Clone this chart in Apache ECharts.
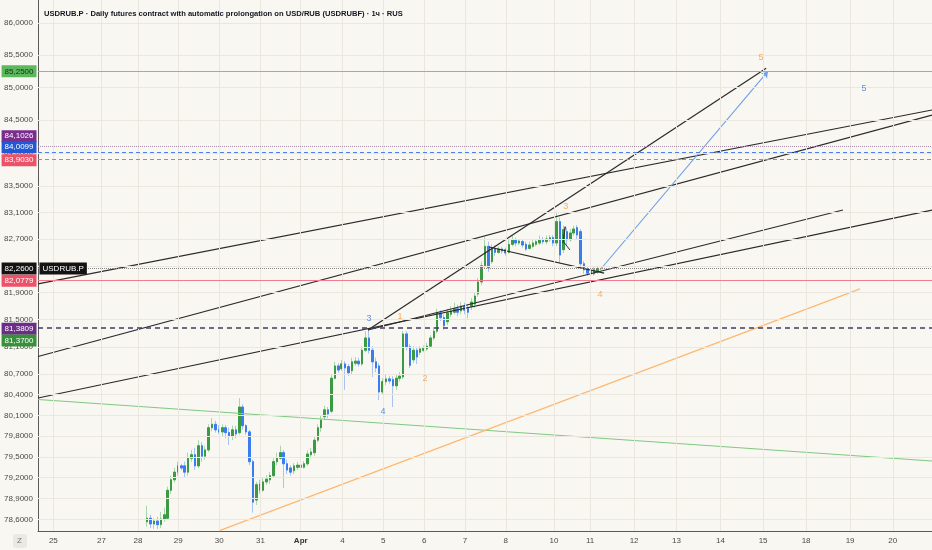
<!DOCTYPE html>
<html>
<head>
<meta charset="utf-8">
<title>USDRUB.P</title>
<script src="https://cdn.jsdelivr.net/npm/echarts@6.0.0/dist/echarts.min.js"></script>
<style>
html, body { margin: 0; padding: 0; background: #f9f7f1; }
#main { width: 932px; height: 550px; }
</style>
</head>
<body>
<div id="main"></div>
<script>
var myChart = echarts.init(document.getElementById('main'));

// hourly bars, 12 slots per trading day; first bar sits on slot 32
var firstBar = 32;

var opens = [
    78.57, 78.62, 78.54, 78.58, 78.53, 78.61, 78.62, 79.02, 79.17, 79.28,
    79.37, 79.37, 79.28, 79.48, 79.53, 79.37, 79.66, 79.51, 79.60, 79.92,
    79.97, 79.89, 79.86, 79.92, 79.85, 79.80, 79.89, 79.85, 80.22, 79.95,
    79.86, 79.43, 78.88, 79.11, 79.02, 79.14, 79.17, 79.23, 79.43, 79.48,
    79.56, 79.40, 79.34, 79.30, 79.35, 79.38, 79.35, 79.40, 79.53, 79.56,
    79.74, 79.92, 80.08, 80.18, 80.16, 80.64, 80.82, 80.78, 80.85, 80.81,
    80.75, 80.86, 80.89, 80.85, 81.05, 81.23, 81.05, 80.88, 80.82, 80.44,
    80.59, 80.63, 80.62, 80.53, 80.64, 80.66, 81.29, 81.10, 80.91, 81.05,
    81.02, 81.05, 81.07, 81.11, 81.23, 81.33, 81.60, 81.53, 81.47, 81.58,
    81.61, 81.66, 81.63, 81.70, 81.67, 81.70, 81.73, 81.88, 82.06, 82.30,
    82.59, 82.36, 82.56, 82.50, 82.55, 82.54, 82.50, 82.62, 82.69, 82.64,
    82.66, 82.62, 82.56, 82.59, 82.62, 82.64, 82.69, 82.66, 82.69, 82.72,
    82.64, 82.96, 82.54, 82.81, 82.69, 82.79, 82.87, 82.81, 82.33, 82.25,
    82.22, 82.18, 82.21
];
var closes = [
    78.62, 78.54, 78.58, 78.53, 78.61, 78.67, 79.02, 79.17, 79.28, 79.37,
    79.34, 79.28, 79.48, 79.53, 79.37, 79.66, 79.51, 79.60, 79.92, 79.97,
    79.89, 79.86, 79.92, 79.85, 79.80, 79.89, 79.83, 80.22, 79.95, 79.86,
    79.43, 78.85, 79.10, 79.02, 79.14, 79.18, 79.23, 79.43, 79.48, 79.56,
    79.40, 79.31, 79.28, 79.37, 79.38, 79.35, 79.40, 79.54, 79.57, 79.74,
    79.92, 80.03, 80.18, 80.12, 80.64, 80.82, 80.76, 80.85, 80.79, 80.72,
    80.88, 80.89, 80.85, 81.05, 81.23, 81.05, 80.88, 80.79, 80.44, 80.59,
    80.63, 80.60, 80.53, 80.64, 80.67, 81.29, 81.10, 80.83, 81.05, 80.95,
    81.07, 81.08, 81.11, 81.23, 81.33, 81.60, 81.53, 81.41, 81.60, 81.63,
    81.66, 81.61, 81.70, 81.64, 81.61, 81.76, 81.85, 82.06, 82.30, 82.59,
    82.27, 82.56, 82.50, 82.55, 82.52, 82.49, 82.62, 82.69, 82.64, 82.67,
    82.61, 82.55, 82.61, 82.64, 82.66, 82.69, 82.66, 82.70, 82.72, 82.64,
    82.96, 82.46, 82.84, 82.69, 82.79, 82.85, 82.76, 82.33, 82.24, 82.19,
    82.18, 82.24, 82.26
];
var lows = [
    78.50, 78.48, 78.47, 78.47, 78.48, 78.57, 78.60, 78.97, 79.13, 79.23,
    79.31, 79.20, 79.23, 79.43, 79.31, 79.34, 79.43, 79.46, 79.57, 79.87,
    79.85, 79.83, 79.80, 79.77, 79.67, 79.74, 79.77, 79.82, 79.89, 79.82,
    79.38, 78.70, 78.81, 78.97, 79.00, 79.10, 79.11, 79.20, 79.38, 79.46,
    79.05, 79.25, 79.23, 79.25, 79.31, 79.33, 79.33, 79.37, 79.48, 79.51,
    79.71, 79.86, 80.03, 80.06, 80.13, 80.62, 80.72, 80.75, 80.47, 80.67,
    80.70, 80.82, 80.81, 80.82, 81.02, 81.00, 80.66, 80.73, 80.32, 80.40,
    80.54, 80.56, 80.22, 80.47, 80.59, 80.63, 81.05, 80.79, 80.86, 80.85,
    80.98, 81.02, 81.04, 81.08, 81.20, 81.30, 81.48, 81.35, 81.42, 81.54,
    81.58, 81.55, 81.58, 81.58, 81.52, 81.64, 81.67, 81.84, 82.01, 82.27,
    82.21, 82.33, 82.45, 82.48, 82.48, 82.45, 82.48, 82.59, 82.59, 82.61,
    82.57, 82.52, 82.54, 82.56, 82.59, 82.61, 82.62, 82.62, 82.66, 82.59,
    82.59, 82.34, 82.49, 82.61, 82.66, 82.75, 82.69, 82.28, 82.18, 82.15,
    82.15, 82.15, 82.18
];
var highs = [
    78.80, 78.67, 78.62, 78.64, 78.71, 78.77, 79.07, 79.23, 79.34, 79.43,
    79.40, 79.43, 79.56, 79.60, 79.63, 79.74, 79.71, 79.66, 79.97, 80.06,
    80.02, 79.96, 79.97, 79.96, 79.92, 79.95, 79.95, 80.35, 80.26, 79.97,
    79.89, 79.46, 79.14, 79.17, 79.20, 79.24, 79.28, 79.48, 79.56, 79.66,
    79.60, 79.46, 79.38, 79.41, 79.43, 79.41, 79.44, 79.59, 79.63, 79.80,
    79.97, 80.09, 80.24, 80.22, 80.70, 80.88, 80.86, 80.91, 80.89, 80.85,
    80.94, 80.95, 80.94, 81.11, 81.33, 81.35, 81.11, 80.94, 80.86, 80.64,
    80.69, 80.67, 80.67, 80.70, 80.73, 81.33, 81.33, 81.14, 81.11, 81.10,
    81.11, 81.12, 81.16, 81.27, 81.39, 81.66, 81.64, 81.58, 81.66, 81.70,
    81.75, 81.72, 81.76, 81.75, 81.73, 81.82, 81.91, 82.12, 82.36, 82.73,
    82.66, 82.62, 82.61, 82.59, 82.58, 82.57, 82.69, 82.75, 82.72, 82.70,
    82.69, 82.66, 82.66, 82.69, 82.70, 82.75, 82.73, 82.75, 82.76, 82.76,
    83.11, 83.02, 82.90, 82.87, 82.85, 82.90, 82.91, 82.85, 82.37, 82.28,
    82.27, 82.28, 82.30
];

// price scale (log), visible range and labelled levels
var yMin = 78.439, yMax = 86.359;
var yTicks = [86.0, 85.5, 85.0, 84.5, 84.0, 83.5, 83.1, 82.7, 82.3, 81.9, 81.5, 81.1,
    80.7, 80.4, 80.1, 79.8, 79.5, 79.2, 78.9, 78.6];

// time scale in bar slots
var xMin = 0, xMax = 262;
var dayTicks = [4.5, 18.6, 29.3, 41.1, 53.1, 65.2, 77.0, 89.2, 101.2, 113.2, 125.1,
    137.1, 151.2, 161.8, 174.7, 187.1, 200.0, 212.5, 225.1, 238.0, 250.5];
var dayLabels = ['25', '27', '28', '29', '30', '31', 'Apr', '4', '5', '6', '7',
    '8', '10', '11', '12', '13', '14', '15', '18', '19', '20'];

// horizontal levels and price tags
var priceLevels = [85.25, 84.1026, 84.0099, 83.9030, 82.26, 82.0779, 81.3809];
var tagPrices = [85.25, 84.1026, 84.0099, 83.9030, 82.26, 82.0779, 81.3809, 81.37];
var lastPrice = 82.26;

// drawings: [[bar, price], [bar, price]]
var trendLines = [
    [[0, 82.03], [262, 84.655]],
    [[0, 80.958], [262, 84.578]],
    [[0, 80.352], [262, 83.135]],
    [[96.7, 81.348], [235.9, 83.135]],
    [[96.7, 81.348], [213.4, 85.297]],
    [[132.2, 82.58], [165.9, 82.19]]
];
var greenLine = [[0, 80.33], [262, 79.44]];
var orangeLine = [[53.0, 78.44], [240.9, 81.955]];
var blueArrow = [[164.7, 82.237], [213.9, 85.248]];
var smallPattern = [[153.8, 82.635], [154.5, 82.885], [155.0, 82.86], [154.0, 82.66], [155.9, 82.535]];

// wave counts: bar, price, text, group
var waveBars = [97.0, 101.1, 106.1, 113.4, 154.7, 164.7, 211.9, 242.1];
var wavePrices = [81.51, 80.15, 81.55, 80.64, 83.195, 81.87, 85.47, 84.99];
var waveTexts = ['3', '4', '1', '2', '3', '4', '5', '5'];
var waveGroup = ['b', 'b', 'o', 'o', 'o', 'o', 'o', 'b'];

var FONT = '"Liberation Sans", Arial, sans-serif';
var ln = Math.log;
var fmtPrice = function (p) { return p.toFixed(4).replace('.', ','); };

var levelStyles = [
    { color: '#7cc47f', type: 'solid', width: 1 },
    { color: '#a58fa6', type: 'dotted', width: 1 },
    { color: '#4f7fe8', type: [4, 3], width: 1 },
    { color: '#f0687a', type: [4, 3], width: 1 },
    { color: '#8a8a8a', type: 'dotted', width: 1 },
    { color: '#f27c8b', type: 'solid', width: 1 },
    { color: '#3c3c66', type: [5, 4], width: 1.5 }
];
var tagStyles = [
    { bg: '#5cb85c', fg: '#1d2b1d', dy: 0 },
    { bg: '#7b2d8e', fg: '#ffffff', dy: -10 },
    { bg: '#2158d6', fg: '#ffffff', dy: -5 },
    { bg: '#ee5269', fg: '#ffffff', dy: 1 },
    { bg: '#131313', fg: '#ffffff', dy: 0 },
    { bg: '#ee5269', fg: '#ffffff', dy: 0 },
    { bg: '#6b2d87', fg: '#ffffff', dy: 1 },
    { bg: '#36913a', fg: '#ffffff', dy: 12 }
];
var waveColors = { b: '#3a78e0', o: '#f39a45' };

var wickData = [], bodyData = [];
for (var k = 0; k < opens.length; k++) {
    var x = firstBar + k;
    wickData.push([x, ln(opens[k]), ln(closes[k]), ln(lows[k]), ln(highs[k])]);
    bodyData.push([x, ln(opens[k]), ln(closes[k]),
        ln(Math.min(opens[k], closes[k])), ln(Math.max(opens[k], closes[k]))]);
}
var toXY = function (pt) { return [pt[0], ln(pt[1])]; };

var series = [];

// faint grid
series.push({
    type: 'line', data: [[xMin, ln(yMin)]], symbol: 'none', silent: true, z: 1,
    lineStyle: { opacity: 0 },
    markLine: {
        silent: true, symbol: ['none', 'none'], label: { show: false }, precision: 10,
        lineStyle: { color: '#ebe7de', width: 1, type: 'solid' },
        data: dayTicks.map(function (v) { return { xAxis: v }; })
            .concat(yTicks.map(function (v) { return { yAxis: ln(v) }; }))
    }
});

// price levels
series.push({
    type: 'line', data: [[xMin, ln(yMin)]], symbol: 'none', silent: true, z: 2,
    lineStyle: { opacity: 0 },
    markLine: {
        silent: true, symbol: ['none', 'none'], label: { show: false }, precision: 10,
        data: priceLevels.map(function (p, i) { return { yAxis: ln(p), lineStyle: levelStyles[i] }; })
    }
});

// candles: light wicks underneath, solid bodies on top
series.push({
    type: 'candlestick', data: wickData, encode: { x: 0, y: [1, 2, 3, 4] },
    barWidth: 2, silent: true, z: 3,
    itemStyle: { color: '#a9d6aa', color0: '#a7c2f3', borderColor: '#a9d6aa', borderColor0: '#a7c2f3', borderWidth: 1 }
});
series.push({
    type: 'candlestick', data: bodyData, encode: { x: 0, y: [1, 2, 3, 4] },
    barWidth: 2, silent: true, z: 3,
    itemStyle: { color: '#3b9a44', color0: '#3a7df0', borderColor: '#3b9a44', borderColor0: '#3a7df0', borderWidth: 1 }
});

// trend lines
series.push({
    type: 'lines', coordinateSystem: 'cartesian2d', silent: true, z: 4, symbol: 'none',
    lineStyle: { color: '#2a2a2a', width: 1.2, opacity: 1 },
    data: trendLines.map(function (t) { return { coords: t.map(toXY) }; }).concat([
        { coords: greenLine.map(toXY), lineStyle: { color: '#7fc882', width: 1.1, opacity: 1 } },
        { coords: orangeLine.map(toXY), lineStyle: { color: '#ffb870', width: 1.3, opacity: 1 } }
    ])
});
series.push({
    type: 'lines', coordinateSystem: 'cartesian2d', silent: true, z: 4,
    symbol: ['none', 'arrow'], symbolSize: 6,
    lineStyle: { color: '#6f9eea', width: 1.1, opacity: 1 },
    data: [{ coords: blueArrow.map(toXY) }]
});
series.push({
    type: 'line', data: smallPattern.map(toXY), symbol: 'none', silent: true, z: 4,
    lineStyle: { color: '#333333', width: 1 }
});

// wave labels
series.push({
    type: 'scatter', silent: true, z: 5, symbolSize: 0,
    itemStyle: { color: 'rgba(0,0,0,0)' },
    data: waveBars.map(function (b, i) {
        return {
            value: [b, ln(wavePrices[i])], name: waveTexts[i],
            label: { color: waveColors[waveGroup[i]] }
        };
    }),
    label: { show: true, position: 'inside', formatter: '{b}', fontSize: 9, fontFamily: FONT }
});

// price tags on the scale
var tagData = tagPrices.map(function (p, i) {
    var s = tagStyles[i];
    return {
        name: fmtPrice(p), coord: [xMin, ln(p)],
        label: { backgroundColor: s.bg, color: s.fg, offset: [0, s.dy] }
    };
});
tagData.push({
    name: 'USDRUB.P', coord: [xMin, ln(lastPrice)],
    label: { position: 'right', backgroundColor: '#131313', color: '#ffffff', offset: [0, 0] }
});
series.push({
    type: 'line', data: [[xMin, ln(yMin)]], symbol: 'none', silent: true, z: 6,
    lineStyle: { opacity: 0 },
    markPoint: {
        silent: true, symbol: 'rect', symbolSize: 1,
        itemStyle: { color: 'rgba(0,0,0,0)' },
        label: {
            show: true, position: 'left', distance: 1, formatter: '{b}',
            fontSize: 8, lineHeight: 9, fontFamily: FONT, padding: [2, 3, 1, 3]
        },
        data: tagData
    }
});

option = {
    backgroundColor: '#f9f7f1',
    animation: false,
    title: {
        text: 'USDRUB.P · Daily futures contract with automatic prolongation on USD/RUB (USDRUBF) · 1ч · RUS',
        left: 39, top: 5,
        textStyle: { fontSize: 7.6, fontWeight: 'bold', color: '#131722', fontFamily: FONT }
    },
    grid: { left: 38, right: 0, top: 0, bottom: 19 },
    xAxis: {
        type: 'value', min: xMin, max: xMax,
        axisLine: { onZero: false, lineStyle: { color: '#5a5a5a' } },
        axisTick: { show: false },
        splitLine: { show: false },
        axisLabel: {
            customValues: dayTicks, margin: 6, fontSize: 8, color: '#4a4a4a', fontFamily: FONT,
            formatter: function (v) {
                var best = 0;
                for (var i = 1; i < dayTicks.length; i++) {
                    if (Math.abs(dayTicks[i] - v) < Math.abs(dayTicks[best] - v)) best = i;
                }
                var t = dayLabels[best];
                return isNaN(+t) ? '{m|' + t + '}' : t;
            },
            rich: { m: { fontWeight: 'bold', fontSize: 8, color: '#333', fontFamily: FONT } }
        }
    },
    yAxis: {
        type: 'value', min: ln(yMin), max: ln(yMax), scale: true,
        axisLine: { show: true, lineStyle: { color: '#5a5a5a' } },
        axisTick: { show: false },
        splitLine: { show: false },
        axisLabel: {
            customValues: yTicks.map(function (v) { return ln(v); }),
            margin: 5, fontSize: 8, color: '#4a4a4a', fontFamily: FONT,
            formatter: function (v) { return fmtPrice(Math.exp(v)); }
        }
    },
    graphic: [{
        type: 'group', left: 13, bottom: 2,
        children: [
            { type: 'rect', shape: { x: 0, y: 0, width: 14, height: 14, r: 3 }, style: { fill: '#ebe9e3' } },
            { type: 'text', x: 4, y: 3, style: { text: 'Z', fill: '#777', font: '8px ' + FONT } }
        ]
    }],
    series: series
};

myChart.setOption(option);
</script>
</body>
</html>
